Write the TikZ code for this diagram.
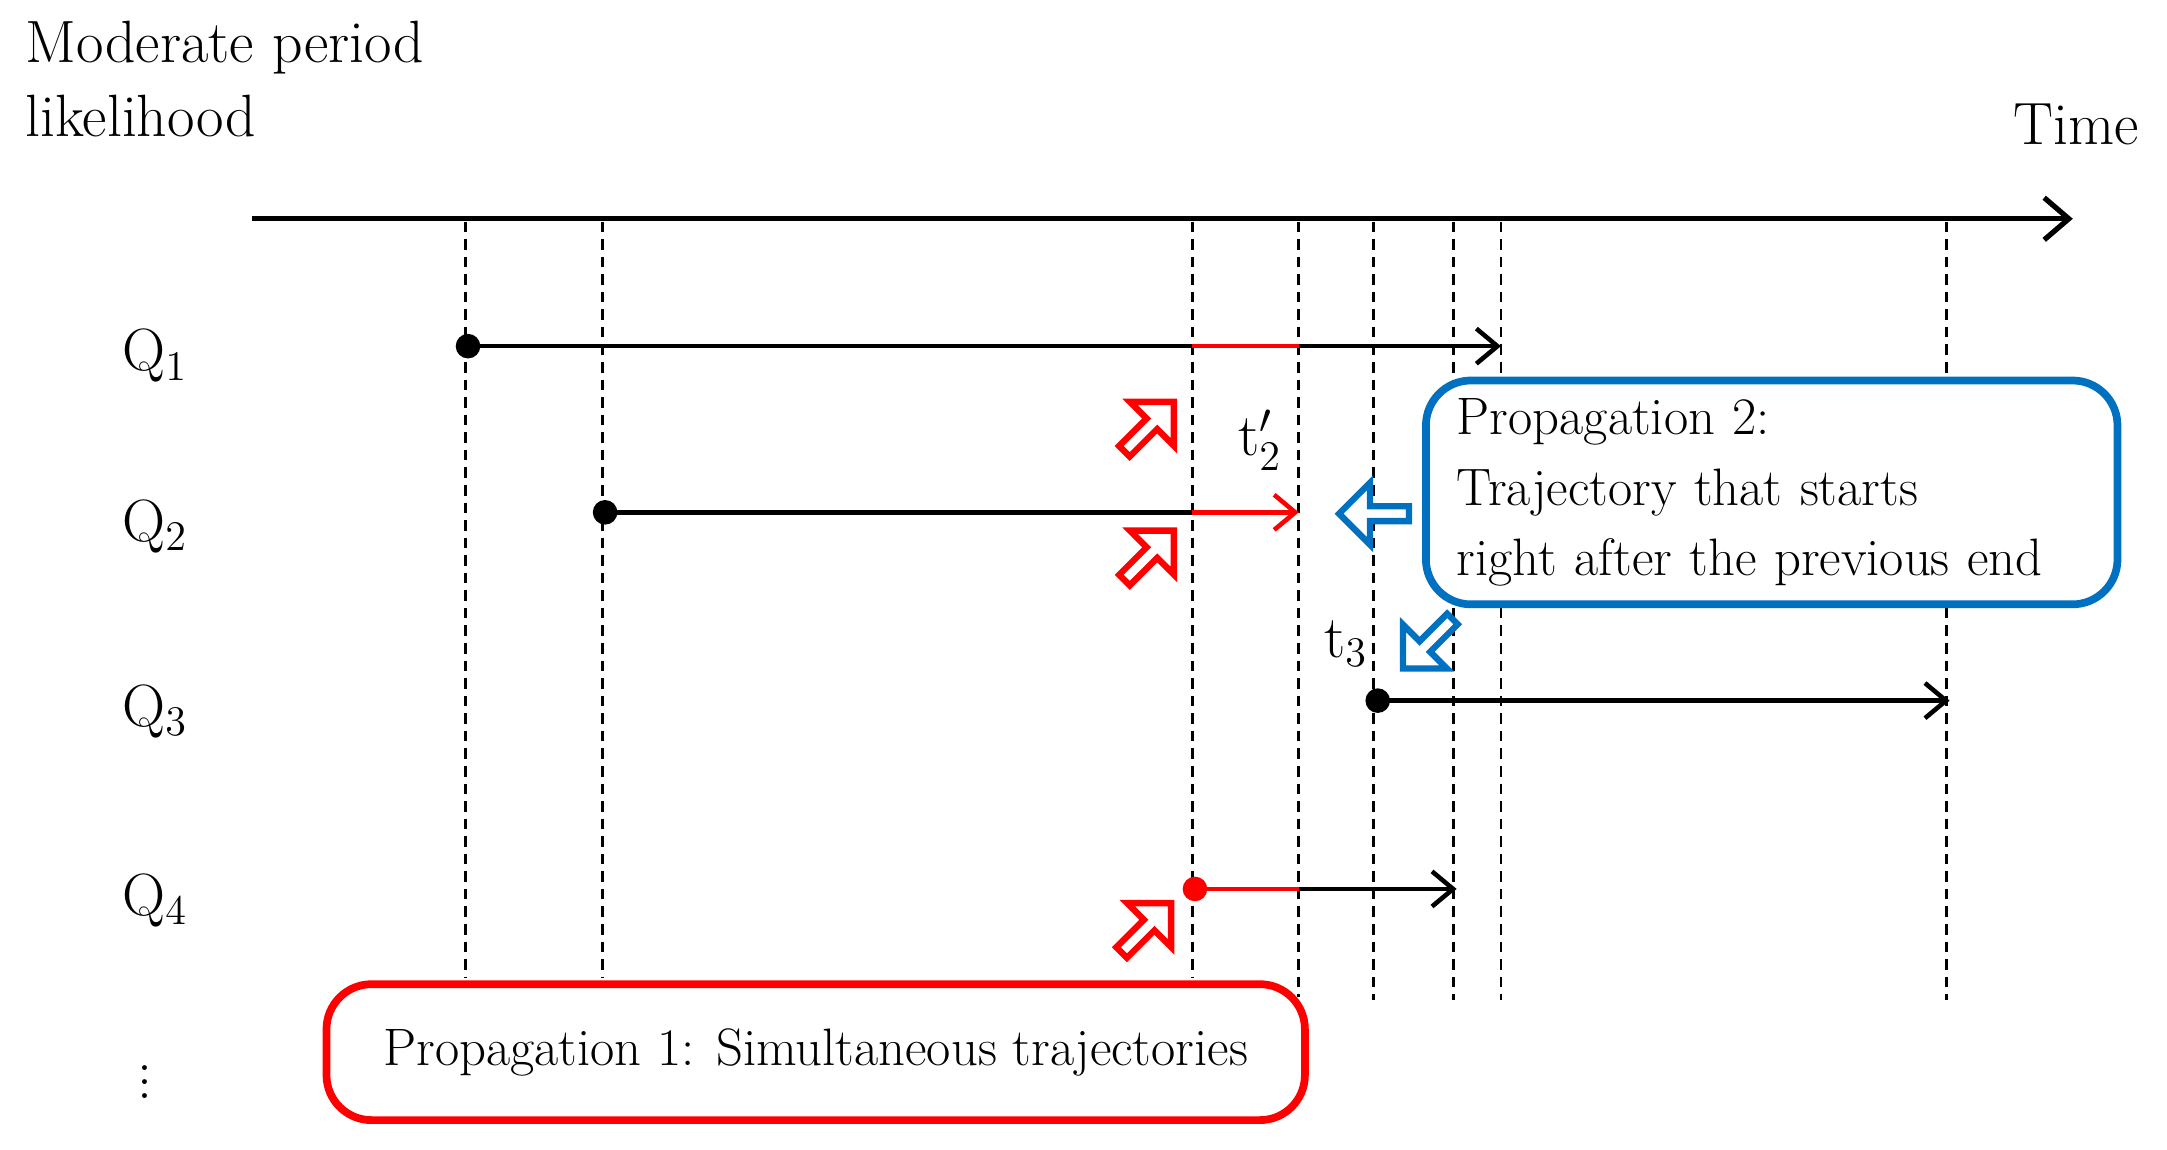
\documentclass[tikz,border=0pt]{standalone}
\usetikzlibrary{shapes.arrows,arrows.meta}
\definecolor{pblue}{RGB}{0,112,192}
\begin{document}
\begin{tikzpicture}[x=0.01385cm,y=-0.01385cm,
  every node/.style={font=\fontsize{17}{21}\selectfont},
  guide/.style={densely dashed,line width=0.8pt},
  traj/.style={line width=1.3pt,-{Straight Barb[length=6pt,width=10pt]}},
  dot/.style={circle,fill,inner sep=0pt,minimum size=7pt},
  hollow/.style={single arrow,draw=#1,line width=1.8pt,fill=white,
    minimum height=0.7cm,minimum width=0.62cm,single arrow head extend=0.1cm,inner sep=0pt},
  propbox/.style={draw=#1,fill=white,line width=2.2pt,rounded corners=0.45cm,
    font=\fontsize{15}{20}\selectfont}]
\useasboundingbox (0,0) rectangle (1565,830);
% labels
\node[anchor=north west,align=left,inner sep=0pt] (ylab) at (18,15) {Moderate period\\likelihood};
\node[anchor=east,inner sep=0pt] (tlab) at (1545,90) {Time};
\coordinate (a0) at (182,158);
\coordinate (a1) at (1497,158);
\draw[line width=1.5pt,-{Straight Barb[length=7pt,width=12pt]}] (a0) -- (a1);
% guides
\foreach \x/\y in {336/706,435/706,861/706,938/720,992/722,1050/722,1084/722,1406/722}
  \draw[guide] (\x,160) -- (\x,\y);
% rows
\node (q1) at (112,257) {Q$_1$};
\node (q2) at (112,380) {Q$_2$};
\node (q3) at (112,514) {Q$_3$};
\node (q4) at (112,650) {Q$_4$};
\node (qd) at (105,774) {$\vdots$};
% Q1
\node[dot] (s1) at (338,250) {};
\coordinate (r1a) at (861,250); \coordinate (r1b) at (938,250); \coordinate (e1) at (1084,250);
\draw[traj] (s1.center) -- (e1);
\draw[red,line width=1.3pt] (r1a) -- (r1b);
% Q2
\node[dot] (s2) at (437,370) {};
\coordinate (r2a) at (861,370); \coordinate (e2) at (938,370);
\draw[line width=1.3pt] (s2.center) -- (r2a);
\draw[traj,red] (r2a) -- (e2);
% Q3
\node[dot] (s3) at (995,506) {};
\coordinate (e3) at (1408,506);
\draw[traj] (s3.center) -- (e3);
% Q4
\node[dot,red] (s4) at (863,642) {};
\coordinate (r4b) at (938,642); \coordinate (e4) at (1052,642);
\draw[line width=1.3pt,red] (s4.center) -- (r4b);
\draw[traj] (r4b) -- (e4);
% time labels
\node (t2) at (910,318) {t$'_2$};
\node (t3) at (972,465) {t$_3$};
% hollow arrows
\node[hollow=red,rotate=45] (h1) at (828,310) {};
\node[hollow=red,rotate=45] (h2) at (828,403) {};
\node[hollow=red,rotate=45] (h3) at (826,672) {};
\node[hollow=pblue,rotate=180] (h4) at (995,371) {};
\node[hollow=pblue,rotate=-135] (h5) at (1033,463) {};
% boxes
\node[propbox=pblue,anchor=north west,align=left,minimum width=6.92cm,minimum height=2.24cm,
  text width=6.3cm] (p2) at (1027,272) {Propagation 2:\\Trajectory that starts\\right after the previous end};
\node[propbox=red,anchor=north west,minimum width=9.79cm,minimum height=1.36cm] (p1) at (233,708)
  {Propagation 1: Simultaneous trajectories};
\end{tikzpicture}
\end{document}
